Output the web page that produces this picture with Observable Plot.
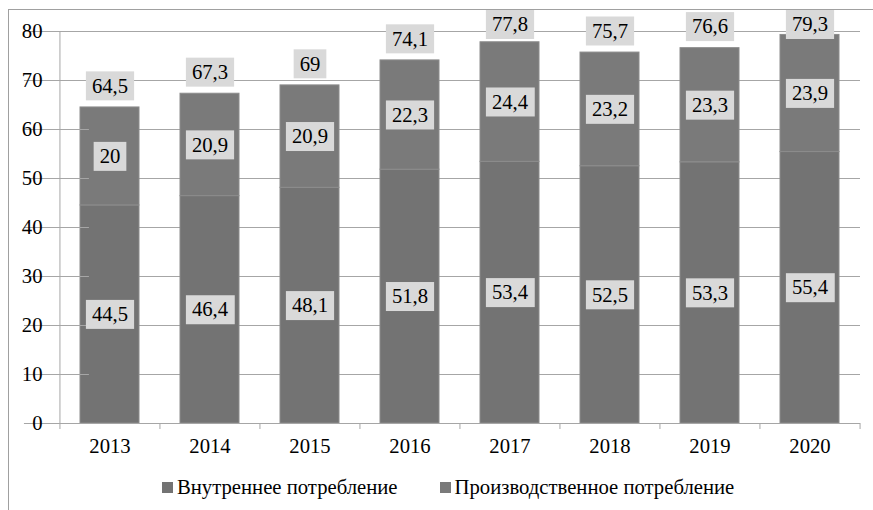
<!DOCTYPE html>
<html>
<head>
<meta charset="utf-8">
<script src="https://cdn.jsdelivr.net/npm/d3@7"></script>
<script src="https://cdn.jsdelivr.net/npm/@observablehq/plot@0.6"></script>
<style>
  html, body { margin: 0; padding: 0; background: #fff; }
  #wrap { position: relative; width: 873px; height: 510px; overflow: hidden; font-family: "Liberation Serif", serif; }
  #frame { position: absolute; left: 8px; top: 9px; right: -5px; bottom: -5px; border-left: 1px solid #a0a0a0; border-top: 1px solid #a0a0a0; }
  #chart { position: absolute; left: 0; top: 0; }
  #chart svg text { font-family: "Liberation Serif", serif !important; }
  #legend { position: absolute; top: 474px; left: 162px; font-size: 20.7px; line-height: 26px; color: #000; white-space: nowrap; display: flex; align-items: center; font-family: "Liberation Serif", serif; }
  .sw { display: inline-block; width: 11px; height: 11px; margin-right: 4px; }
  .item { display: inline-flex; align-items: center; margin-right: 42px; }
</style>
</head>
<body>
<div id="wrap">
  <div id="frame"></div>
  <div id="chart"></div>
  <div id="legend"></div>
</div>
<script>
const years = ["2013", "2014", "2015", "2016", "2017", "2018", "2019", "2020"];
const seriesNames = ["Внутреннее потребление", "Производственное потребление"];
const internal = [44.5, 46.4, 48.1, 51.8, 53.4, 52.5, 53.3, 55.4];
const production = [20, 20.9, 20.9, 22.3, 24.4, 23.2, 23.3, 23.9];
const totals = [64.5, 67.3, 69, 74.1, 77.8, 75.7, 76.6, 79.3];
const yTicks = [0, 10, 20, 30, 40, 50, 60, 70, 80];
const colors = ["#737373", "#7a7a7a"];

const data = [];
years.forEach((y, i) => {
  data.push({year: y, series: seriesNames[0], value: internal[i]});
  data.push({year: y, series: seriesNames[1], value: production[i]});
});
const totalData = years.map((y, i) => ({year: y, value: totals[i]}));
const fmt = v => String(v).replace(".", ",");

const W = 873, H = 470, mL = 59, mR = 13, mT = 31, mB = 47;
const step = (W - mL - mR) / years.length;
const FF = "Liberation Serif, serif";
const FS = 20.7;

const chart = Plot.plot({
  width: W, height: H,
  marginLeft: mL, marginRight: mR, marginTop: mT, marginBottom: mB,
  style: {fontFamily: FF, fontSize: FS + "px", color: "#000", background: "transparent"},
  x: {domain: years, paddingInner: 0.41, paddingOuter: 0.205, label: null},
  y: {domain: [0, 80], label: null},
  color: {domain: seriesNames, range: colors},
  marks: [
    Plot.ruleY(yTicks, {stroke: "#a6a6a6", strokeWidth: 1}),
    Plot.barY(data, Plot.stackY({x: "year", y: "value", fill: "series", stroke: "#8c8c8c", strokeWidth: 1, order: seriesNames})),
    Plot.ruleX([0], {x: () => years[0], dx: -step / 2, stroke: "#a6a6a6", y1: 0, y2: 80}),
    Plot.ruleY([0], {stroke: "#a6a6a6"}),
    Plot.ruleX(years, {x: d => d, dx: -step / 2, y1: 0, y2: 0, insetBottom: -6, stroke: "#a6a6a6"}),
    Plot.ruleX([years[years.length - 1]], {x: d => d, dx: step / 2, y1: 0, y2: 0, insetBottom: -6, stroke: "#a6a6a6"}),
    Plot.ruleY(yTicks, {x1: () => years[0], x2: () => years[0], dx: -step / 2, insetLeft: -6, stroke: "#a6a6a6"}),
    Plot.axisY({ticks: yTicks, tickSize: 0, tickPadding: 17, fontSize: FS, fontFamily: FF}),
    Plot.axisX({tickSize: 0, tickPadding: 15, fontSize: FS, fontFamily: FF}),
    Plot.text(data, Plot.stackY({x: "year", y: "value", z: "series", order: seriesNames, text: d => fmt(d.value), fill: "#000", fontSize: FS, fontFamily: FF})),
    Plot.text(totalData, {x: "year", y: "value", text: d => fmt(d.value), dy: -21.5, fill: "#000", fontSize: FS, fontFamily: FF})
  ]
});
document.getElementById("chart").append(chart);

// label boxes behind value labels; total labels are kept inside the chart frame (box top >= 10)
const groups = Array.from(chart.querySelectorAll("g[aria-label='text']"));
const FRAME_TOP = 10;
const svgTop = chart.getBoundingClientRect().top;
groups.forEach((g, gi) => {
  const isTotal = gi === groups.length - 1;
  g.querySelectorAll("text").forEach(t => {
    const b = t.getBBox();
    const r = document.createElementNS("http://www.w3.org/2000/svg", "rect");
    const cy = b.y + b.height / 2 + 0.3;
    const top = cy - 14.5;
    r.setAttribute("x", b.x - 6);
    r.setAttribute("y", top);
    r.setAttribute("width", b.width + 12);
    r.setAttribute("height", 29);
    r.setAttribute("fill", "#d9d9d9");
    let tr = t.getAttribute("transform") || "";
    if (isTotal) {
      const cr = t.getBoundingClientRect();
      const absTop = cr.top - svgTop + cr.height / 2 + 0.3 - 14.5;
      if (absTop < FRAME_TOP) {
        tr = (tr + ` translate(0,${FRAME_TOP - absTop})`).trim();
        t.setAttribute("transform", tr);
      }
    }
    if (tr) r.setAttribute("transform", tr);
    t.parentNode.insertBefore(r, t);
  });
});

// legend
const leg = document.getElementById("legend");
seriesNames.forEach((s, i) => {
  const it = document.createElement("span");
  it.className = "item";
  const sw = document.createElement("span");
  sw.className = "sw";
  sw.style.background = colors[i];
  it.append(sw, document.createTextNode(s));
  leg.append(it);
});
</script>
</body>
</html>
